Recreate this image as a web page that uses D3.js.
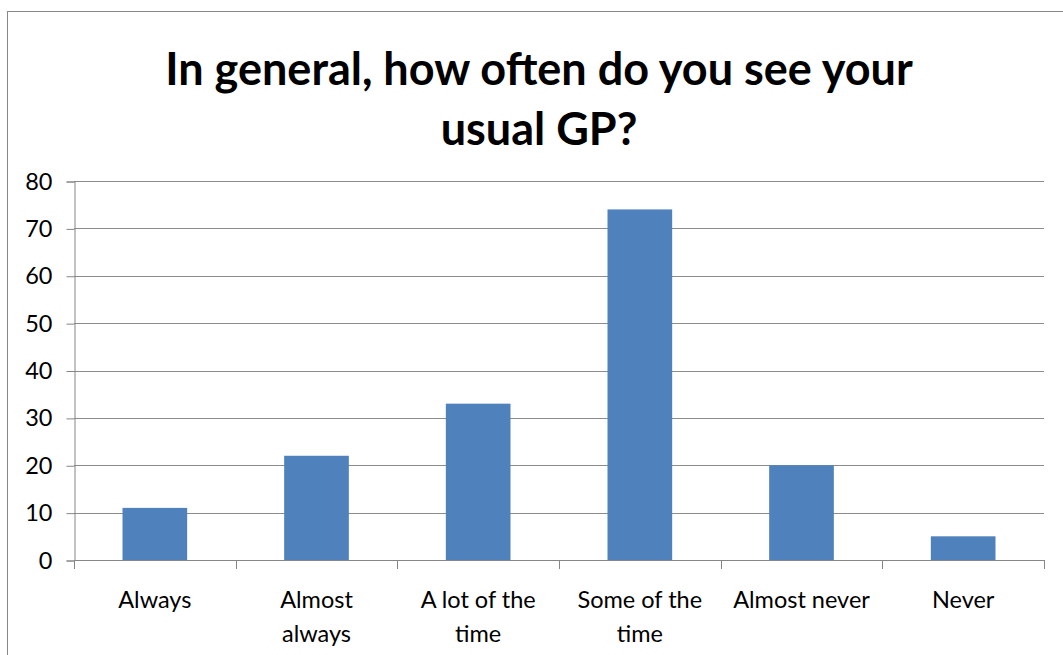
<!DOCTYPE html>
<meta charset="utf-8">
<style>
  body { margin: 0; background: #fff; }
  text { font-family: Lato, "Open Sans", sans-serif; fill: #000; }
</style>
<svg width="1063" height="655"></svg>
<script src="https://d3js.org/d3.v7.min.js"></script>
<script>

var categories = ["Always", "Almost always", "A lot of the time", "Some of the time", "Almost never", "Never"]
// how each category label is broken over lines, as in the picture
var categoryLines = [["Always"], ["Almost", "always"], ["A lot of the", "time"], ["Some of the", "time"], ["Almost never"], ["Never"]]
var values = [11, 22, 33, 74, 20, 5]
var yTicks = [0, 10, 20, 30, 40, 50, 60, 70, 80]
var titleLines = ["In general, how often do you see your", "usual GP?"]

var svg = d3.select('svg')

// chart border (right and bottom run off the page)
svg.append('rect')
  .attr('x', 7.5).attr('y', 11.5)
  .attr('width', 1100).attr('height', 700)
  .attr('fill', 'none')
  .attr('stroke', '#888')
  .attr('stroke-width', 1)

var margin = { left: 74, right: 1044, top: 181, bottom: 560 }

var x = d3.scaleBand()
  .domain(categories)
  .range([margin.left, margin.right])
  .paddingInner(0.6)
  .paddingOuter(0.3)

var band = d3.scaleBand().domain(categories).range([margin.left, margin.right])

var y = d3.scaleLinear().domain([0, 80]).range([margin.bottom, margin.top])

// gridlines
svg.append('g')
  .selectAll('line')
  .data(yTicks.filter(function (t) { return t > 0 }))
  .enter().append('line')
  .attr('x1', margin.left).attr('x2', margin.right)
  .attr('y1', function (d) { return Math.round(y(d)) + 0.5 })
  .attr('y2', function (d) { return Math.round(y(d)) + 0.5 })
  .attr('stroke', '#8c8c8c')
  .attr('stroke-width', 1)

// bars
svg.append('g')
  .selectAll('rect')
  .data(values)
  .enter().append('rect')
  .attr('x', function (d, i) { return x(categories[i]) })
  .attr('width', x.bandwidth())
  .attr('y', function (d) { return y(d) })
  .attr('height', function (d) { return y(0) - y(d) })
  .attr('fill', '#4f81bd')

// y axis
var yAxis = d3.axisLeft(y).tickValues(yTicks).tickSize(8).tickPadding(14)
var yg = svg.append('g')
  .attr('transform', 'translate(' + (margin.left + 0.5) + ',0.5)')
  .call(yAxis)
yg.selectAll('path, line').attr('stroke', '#868686')
yg.selectAll('text').attr('font-size', 23.5).attr('font-family', 'Lato, sans-serif')

// x axis line and tick marks at band edges
var xg = svg.append('g')
xg.append('line')
  .attr('x1', margin.left).attr('x2', margin.right)
  .attr('y1', margin.bottom + 0.5).attr('y2', margin.bottom + 0.5)
  .attr('stroke', '#868686')
var edges = categories.map(function (c) { return band(c) }).concat([margin.right])
xg.selectAll('line.tick')
  .data(edges)
  .enter().append('line')
  .attr('class', 'tick')
  .attr('x1', function (d) { return Math.round(d) + 0.5 })
  .attr('x2', function (d) { return Math.round(d) + 0.5 })
  .attr('y1', margin.bottom).attr('y2', margin.bottom + 9)
  .attr('stroke', '#868686')

// category labels
xg.selectAll('text.cat')
  .data(categories)
  .enter().append('text')
  .attr('class', 'cat')
  .attr('text-anchor', 'middle')
  .attr('font-size', 23.5)
  .each(function (c, i) {
    var t = d3.select(this)
    categoryLines[i].forEach(function (line, j) {
      t.append('tspan')
        .attr('x', band(c) + band.bandwidth() / 2)
        .attr('y', 608 + j * 34)
        .text(line)
    })
  })

// title
svg.append('text')
  .attr('text-anchor', 'middle')
  .attr('font-size', 45)
  .attr('font-weight', 'bold')
  .selectAll('tspan')
  .data(titleLines)
  .enter().append('tspan')
  .attr('x', 539)
  .attr('y', function (d, i) { return 85 + i * 60 })
  .text(function (d) { return d })

</script>
